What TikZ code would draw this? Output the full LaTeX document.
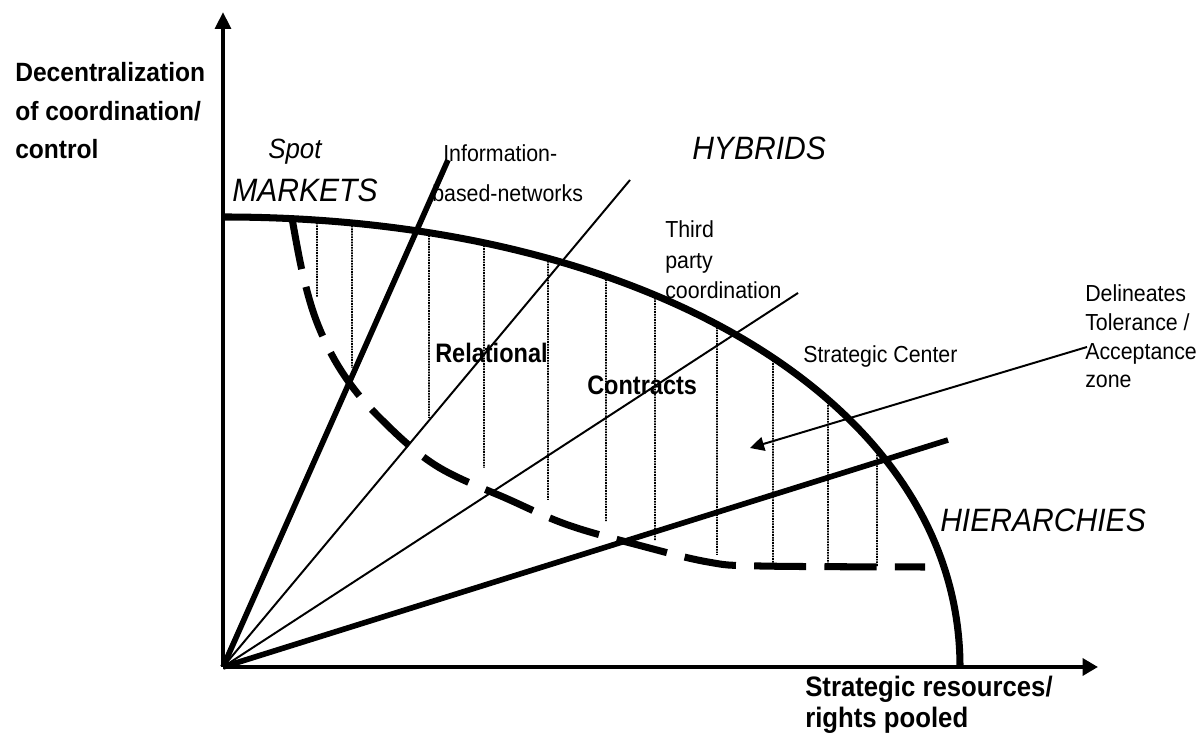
\documentclass[tikz,border=0pt]{standalone}
\usepackage{fontspec}
\setmainfont{Liberation Sans}
\usetikzlibrary{arrows.meta}
\usetikzlibrary{intersections}

\begin{document}
\begin{tikzpicture}[x=0.025cm, y=0.025cm,
  txt/.style={anchor=base west, inner sep=0pt, align=left, xscale=0.92, font=\fontsize{16.5}{21.3}\selectfont},
  bigit/.style={anchor=base west, inner sep=0pt, xscale=0.93, font=\fontsize{23}{26}\selectfont\itshape},
  zonelab/.style={anchor=base west, inner sep=0pt, xscale=0.88, font=\fontsize{19}{20}\selectfont\bfseries},
  axislab/.style={anchor=base west, inner sep=0pt, align=left, font=\bfseries}]
\useasboundingbox (0,0) rectangle (1203,740);

\coordinate (O) at (223,73);
\coordinate (Ytip) at (223,728);
\coordinate (Xtip) at (1098,73);

% ray ends
\coordinate (R1) at (448,580);
\coordinate (R2) at (630,560);
\coordinate (R3) at (798,447);
\coordinate (R4) at (948,300);

% outer boundary
\path[name path=arc] (223,523) .. controls (650,523) and (960,334) .. (960,73);

% hatching of the tolerance zone
\foreach \x/\b in {317/443, 352/372, 429/322, 484/272, 548/240, 606/218, 655/199, 717/185, 773/173, 828/173, 877/173} {
  \path[name path=v] (\x,0) -- (\x,740);
  \draw[line width=1.2pt, dash pattern=on 1.2pt off 0.7pt, name intersections={of=arc and v}] (intersection-1) -- (\x,\b);
}

\draw[line width=5pt] (223,523) .. controls (650,523) and (960,334) .. (960,73);

\draw[line width=4pt] (O) -- (R1);
\draw[line width=1.4pt] (O) -- (R2);
\draw[line width=1.4pt] (O) -- (R3);
\draw[line width=4pt] (O) -- (R4);

% inner boundary
\draw[line width=5pt, dash pattern=on 37pt off 13pt] plot[smooth, tension=0.6] coordinates {(292,522) (303,465) (318,415) (342,368) (377,325) (435,275) (510,240) (568,215) (638,195) (708,178) (760,174) (925,173)};

\draw[line width=3.2pt, -{Triangle[length=12pt, width=11pt]}] (O) -- (Ytip);
\draw[line width=3.2pt, -{Triangle[length=11pt, width=12pt]}] (O) -- (Xtip);

\node[axislab, xscale=0.93, font=\fontsize{18.8}{27.7}\selectfont\bfseries] (ylab) at (15,581) {Decentralization\\of coordination/\\control};
\node[axislab, xscale=0.915, font=\fontsize{20}{22.5}\selectfont\bfseries] (xlab) at (805,12) {Strategic resources/\\rights pooled};

\node[anchor=base west, inner sep=0pt, xscale=0.93, font=\fontsize{19.8}{22}\selectfont\itshape] (spot) at (268,581) {Spot};
\node[bigit] (markets) at (232,538) {MARKETS};
\node[bigit] (hybrids) at (692,580) {HYBRIDS};
\node[bigit] (hier) at (940,208) {HIERARCHIES};

\node[txt] (info) at (443,578) {Information-};
\node[txt] (based) at (432,538) {based-networks};
\node[txt, font=\fontsize{16.5}{22}\selectfont] (third) at (665,441) {Third\\party\\coordination};
\node[txt] (center) at (803,377) {Strategic Center};
\node[txt, font=\fontsize{16.5}{20.6}\selectfont] (delin) at (1085,352) {Delineates\\Tolerance /\\Acceptance\\zone};

\node[zonelab] (rel) at (435,377) {Relational};
\node[zonelab] (contr) at (587,345) {Contracts};

\coordinate (Pstart) at (1087,393);
\coordinate (Ptip) at (750,292);
\draw[line width=1.4pt, -{Triangle[length=10pt, width=10pt]}] (Pstart) -- (Ptip);

\end{tikzpicture}
\end{document}
